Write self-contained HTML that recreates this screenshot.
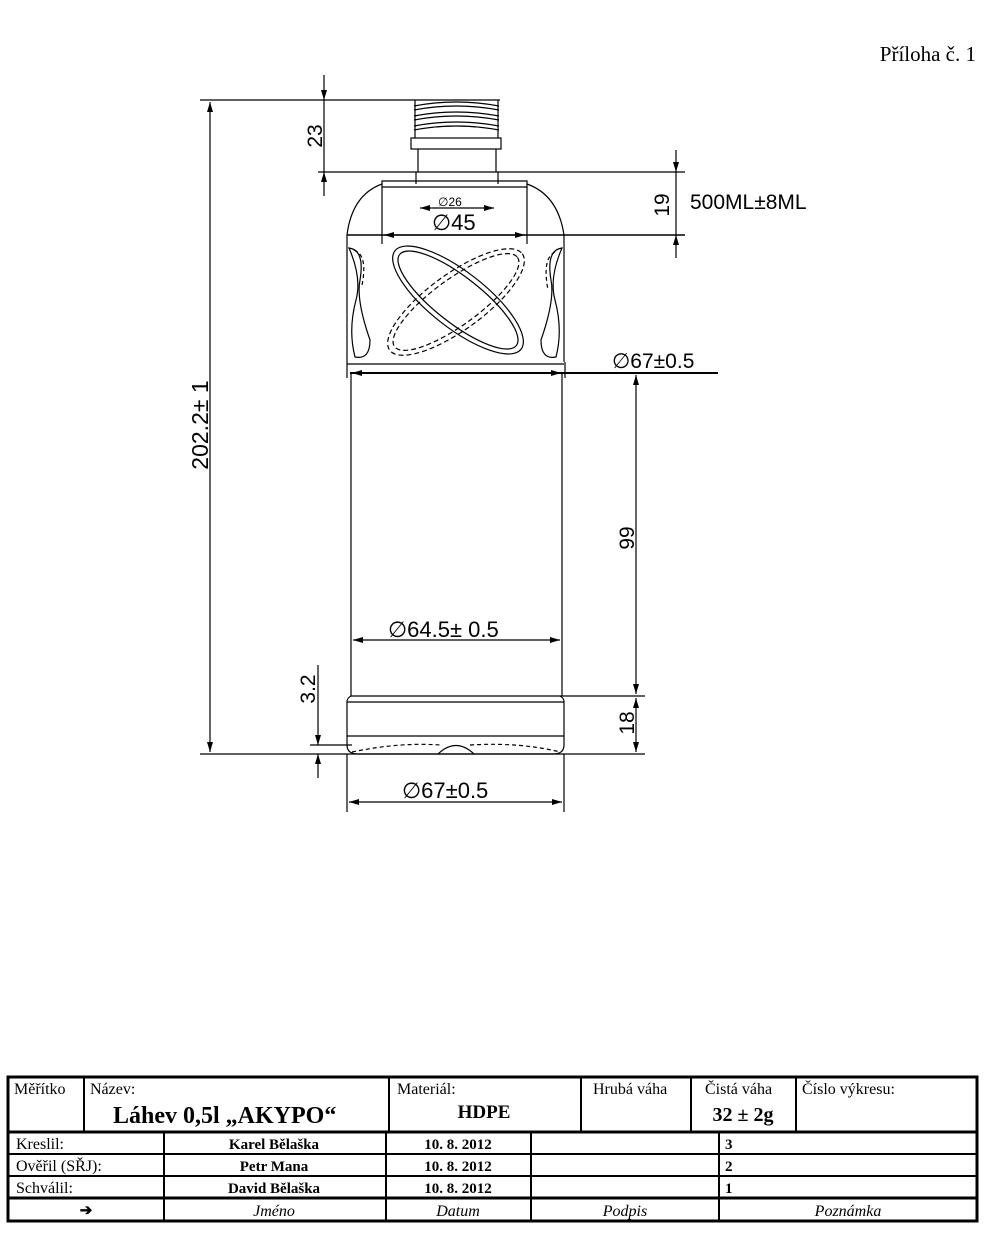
<!DOCTYPE html>
<html><head><meta charset="utf-8"><style>
body{margin:0;background:#fff;}
svg{display:block}
.s{font-family:"Liberation Sans",sans-serif;fill:#000}
.t{font-family:"Liberation Serif",serif;fill:#000}
</style></head><body>
<svg width="999" height="1236" viewBox="0 0 999 1236" xmlns="http://www.w3.org/2000/svg">
<defs>
<marker id="a" viewBox="0 0 10 6" refX="10" refY="3" markerWidth="10" markerHeight="6" orient="auto-start-reverse" markerUnits="userSpaceOnUse"><path d="M0,0L10,3L0,6z" fill="#000"/></marker>
</defs>
<text x="976" y="61" class="t" font-size="21" text-anchor="end">Příloha č. 1</text>
<g stroke="#000" fill="none" stroke-width="1.2">
<line x1="413" y1="100" x2="500" y2="100"/>
<path d="M414,106 Q456,98 499,106 M414,116 Q456,108 499,116 M414,126 Q456,118 499,126 M414,110 Q456,102 499,110 M414,120 Q456,112 499,120 M414,130 Q456,122 499,130"/>
<line x1="415" y1="100" x2="415" y2="138"/><line x1="498" y1="100" x2="498" y2="138"/>
<rect x="411" y="138" width="90" height="11"/>
<line x1="418" y1="149" x2="418" y2="172"/><line x1="496" y1="149" x2="496" y2="172"/>
<line x1="416" y1="172" x2="498" y2="172"/>
<line x1="416" y1="172" x2="416" y2="184"/><line x1="498" y1="172" x2="498" y2="184"/>
<path d="M382,187 L382,181 L527,181 L527,187 Z"/>
<path d="M382,184 Q352,195 347,235 M527,184 Q558,195 564,235"/>
<line x1="347" y1="235" x2="685" y2="235" stroke-width="1.6"/>
<path d="M347,235 L347,362 M564,235 L564,362"/>
<path d="M349,248 Q365,250 360,280 Q356,300 370,340 Q370,360 355,357 Q348,330 356,300 Q362,278 349,248 Z"/>
<path d="M562,248 Q546,250 551,280 Q555,300 541,340 Q541,360 556,357 Q563,330 555,300 Q549,278 562,248 Z"/>
<path d="M354,250 Q368,255 362,285 M555,252 Q542,258 548,290" stroke-dasharray="4,3"/>
<ellipse cx="458" cy="300" rx="80" ry="28" transform="rotate(38 458 300)"/>
<ellipse cx="458" cy="300" rx="74" ry="23" transform="rotate(38 458 300)"/>
<ellipse cx="456" cy="302" rx="82" ry="28" transform="rotate(-36 456 302)" stroke-dasharray="5,3"/>
<ellipse cx="456" cy="302" rx="76" ry="23" transform="rotate(-36 456 302)" stroke-dasharray="5,3"/>
<line x1="347" y1="364" x2="564" y2="364"/>
<line x1="350" y1="373" x2="718" y2="373" stroke-width="2"/>
<line x1="347" y1="362" x2="347" y2="378"/><line x1="565" y1="362" x2="565" y2="378"/>
<line x1="351" y1="373" x2="351" y2="696"/><line x1="562" y1="373" x2="562" y2="696"/>
<line x1="351" y1="696" x2="645" y2="696"/>
<path d="M351,696 Q347,698 347,702 L347,745 Q347,754 358,754 L553,754 Q564,754 564,745 L564,702 Q564,698 560,696"/>
<line x1="347" y1="702" x2="564" y2="702"/>
<line x1="347" y1="736" x2="564" y2="736"/>
<path d="M352,752 Q400,742 440,745 M470,745 Q520,742 560,752" stroke-dasharray="4,3"/>
<path d="M438,754 Q456,737 474,754"/>
<line x1="200" y1="100" x2="413" y2="100"/>
<line x1="200" y1="754" x2="645" y2="754"/>
<line x1="210" y1="102" x2="210" y2="752" marker-start="url(#a)" marker-end="url(#a)"/>
<line x1="318" y1="172" x2="416" y2="172"/>
<line x1="324" y1="75" x2="324" y2="100" marker-end="url(#a)"/>
<line x1="324" y1="100" x2="324" y2="172"/>
<line x1="324" y1="196" x2="324" y2="172" marker-end="url(#a)"/>
<line x1="498" y1="172" x2="685" y2="172"/>
<line x1="676" y1="150" x2="676" y2="172" marker-end="url(#a)"/>
<line x1="676" y1="172" x2="676" y2="235"/>
<line x1="676" y1="258" x2="676" y2="235" marker-end="url(#a)"/>
<line x1="420" y1="208" x2="494" y2="208" marker-start="url(#a)" marker-end="url(#a)"/>
<line x1="384" y1="235" x2="525" y2="235" marker-start="url(#a)" marker-end="url(#a)"/>
<line x1="382" y1="187" x2="382" y2="244"/><line x1="527" y1="187" x2="527" y2="244"/>
<line x1="352" y1="373" x2="561" y2="373" marker-start="url(#a)" marker-end="url(#a)"/>
<line x1="636" y1="375" x2="636" y2="694" marker-start="url(#a)" marker-end="url(#a)"/>
<line x1="636" y1="698" x2="636" y2="752" marker-start="url(#a)" marker-end="url(#a)"/>
<line x1="353" y1="640" x2="560" y2="640" marker-start="url(#a)" marker-end="url(#a)"/>
<line x1="310" y1="745" x2="352" y2="745"/>
<line x1="318" y1="665" x2="318" y2="745" marker-end="url(#a)"/>
<line x1="318" y1="778" x2="318" y2="754" marker-end="url(#a)"/>
<line x1="347" y1="754" x2="347" y2="812"/><line x1="564" y1="754" x2="564" y2="812"/>
<line x1="349" y1="802" x2="562" y2="802" marker-start="url(#a)" marker-end="url(#a)"/>
</g>
<g class="s">
<text transform="translate(322,136) rotate(-90)" font-size="21" text-anchor="middle">23</text>
<text transform="translate(208,425) rotate(-90)" font-size="23" text-anchor="middle">202.2± 1</text>
<text transform="translate(669,205) rotate(-90)" font-size="21" text-anchor="middle">19</text>
<text x="690" y="209" font-size="21">500ML±8ML</text>
<text x="438" y="206" font-size="12">∅26</text>
<text x="432" y="230" font-size="22">∅45</text>
<text x="612" y="368" font-size="21">∅67±0.5</text>
<text transform="translate(634,538) rotate(-90)" font-size="21" text-anchor="middle">99</text>
<text transform="translate(634,723) rotate(-90)" font-size="21" text-anchor="middle">18</text>
<text x="388" y="637" font-size="22">∅64.5±  0.5</text>
<text transform="translate(315,689) rotate(-90)" font-size="21" text-anchor="middle">3.2</text>
<text x="402" y="798" font-size="22">∅67±0.5</text>
</g>
<g stroke="#000" fill="none">
<rect x="8" y="1077" width="969" height="144" stroke-width="3"/>
<line x1="8" y1="1132" x2="977" y2="1132" stroke-width="3"/>
<line x1="8" y1="1154" x2="977" y2="1154" stroke-width="2"/>
<line x1="8" y1="1176" x2="977" y2="1176" stroke-width="2"/>
<line x1="8" y1="1198" x2="977" y2="1198" stroke-width="3"/>
<line x1="84" y1="1077" x2="84" y2="1132" stroke-width="2"/>
<line x1="389" y1="1077" x2="389" y2="1132" stroke-width="2"/>
<line x1="581" y1="1077" x2="581" y2="1132" stroke-width="2"/>
<line x1="691" y1="1077" x2="691" y2="1132" stroke-width="2"/>
<line x1="796" y1="1077" x2="796" y2="1132" stroke-width="2"/>
<line x1="164" y1="1132" x2="164" y2="1221" stroke-width="2"/>
<line x1="386" y1="1132" x2="386" y2="1221" stroke-width="2"/>
<line x1="531" y1="1132" x2="531" y2="1221" stroke-width="2"/>
<line x1="719" y1="1132" x2="719" y2="1221" stroke-width="2"/>
</g>
<g class="t" font-size="16">
<text x="14" y="1094">Měřítko</text>
<text x="90" y="1094">Název:</text>
<text x="113" y="1123" font-size="24" font-weight="bold">Láhev 0,5l „AKYPO“</text>
<text x="397" y="1094">Materiál:</text>
<text x="484" y="1118" font-size="19" font-weight="bold" text-anchor="middle">HDPE</text>
<text x="593" y="1094">Hrubá váha</text>
<text x="705" y="1094">Čistá váha</text>
<text x="743" y="1121" font-size="20" font-weight="bold" text-anchor="middle">32 ± 2g</text>
<text x="802" y="1094">Číslo výkresu:</text>
<text x="16" y="1149">Kreslil:</text>
<text x="16" y="1171">Ověřil (SŘJ):</text>
<text x="16" y="1193">Schválil:</text>
<g font-weight="bold" font-size="15" text-anchor="middle">
<text x="274" y="1149">Karel Bělaška</text><text x="274" y="1171">Petr Mana</text><text x="274" y="1193">David Bělaška</text>
<text x="458" y="1149">10. 8. 2012</text><text x="458" y="1171">10. 8. 2012</text><text x="458" y="1193">10. 8. 2012</text>
<text x="86" y="1215">➔</text>
</g>
<g font-weight="bold" font-size="15"><text x="725" y="1149">3</text><text x="725" y="1171">2</text><text x="725" y="1193">1</text></g>
<g font-style="italic" text-anchor="middle">
<text x="274" y="1216">Jméno</text><text x="458" y="1216">Datum</text><text x="625" y="1216">Podpis</text><text x="848" y="1216">Poznámka</text>
</g>
</g>
</svg>
</body></html>
